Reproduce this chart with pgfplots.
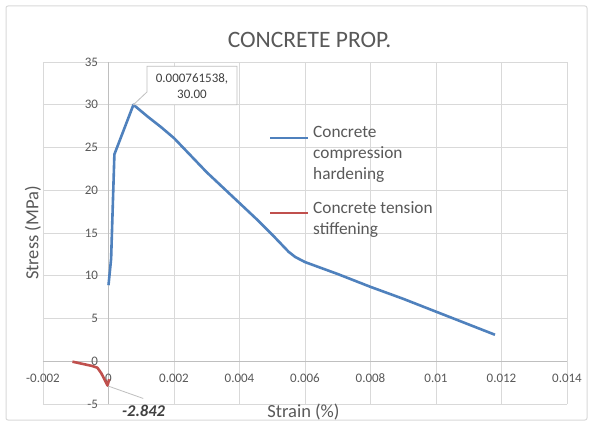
\documentclass[border=0pt]{standalone}
\usepackage{pgfplots}
\pgfplotsset{compat=1.18}
\usepackage{fontspec}
\setmainfont{Carlito}
\definecolor{cblue}{HTML}{4F81BD}
\definecolor{cred}{HTML}{C0504D}
\definecolor{tgray}{HTML}{595959}
\definecolor{dgray}{HTML}{404040}
\definecolor{ggray}{HTML}{D9D9D9}
\definecolor{agray}{HTML}{BFBFBF}
\begin{document}
\begin{tikzpicture}[x=1pt,y=1pt]
\path[fill=white] (0,0) rectangle (593,426);
\draw[ggray, line width=1pt, rounded corners=2pt] (6,6) rectangle (587,420);
\begin{axis}[
  at={(43pt,22pt)}, anchor=south west,
  scale only axis, width=524pt, height=342pt,
  xmin=-0.002, xmax=0.014, ymin=-5, ymax=35,
  enlargelimits=false, clip=false,
  axis lines=middle,
  axis line style={-, draw=agray, line width=0.8pt},
  hide obscured x ticks=false, hide obscured y ticks=false,
  scaled x ticks=false, scaled y ticks=false,
  grid=major,
  major grid style={draw=ggray, line width=0.8pt},
  major tick length=0pt,
  xtick={-0.002,0,0.002,0.004,0.006,0.008,0.01,0.012,0.014},
  xticklabels={-0.002,0,0.002,0.004,0.006,0.008,0.01,0.012,0.014},
  ytick={-5,0,5,10,15,20,25,30,35},
  yticklabels={-5,0,5,10,15,20,25,30,35},
  tick label style={font=\fontsize{13}{15}\selectfont, text=tgray},
  xticklabel style={anchor=center, yshift=-17pt},
  yticklabel style={anchor=east, xshift=-7pt},
]
\addplot[cblue, line width=2.6pt, line join=round] coordinates {
  (0,8.9) (0.00008,12) (0.00018,24.2) (0.000761538,30)
  (0.0012,28.6) (0.0016,27.4) (0.002,26.1) (0.0025,24.1) (0.003,22.1)
  (0.0035,20.3) (0.004,18.5) (0.0045,16.7) (0.005,14.8) (0.0055,12.8)
  (0.0057,12.2) (0.006,11.6) (0.007,10.2) (0.008,8.7) (0.009,7.3)
  (0.01,5.8) (0.011,4.3) (0.0118,3.1)
};
\addplot[cred, line width=2.6pt, line join=round] coordinates {
  (-0.0011,-0.05) (-0.0008,-0.3) (-0.0005,-0.55) (-0.00034,-0.75)
  (-0.00022,-1.4) (-0.0001,-2.3) (-0.00003,-2.842) (0.00002,-2.1)
};
% data callout for the peak
\draw[agray, line width=0.8pt, fill=white]
  (axis cs:0.001176,34.5) -- (axis cs:0.003924,34.5) -- (axis cs:0.003924,30)
  -- (axis cs:0.00145,30) -- (axis cs:0.000761538,30) -- (axis cs:0.001176,31.5) -- cycle;
\node[align=center, font=\fontsize{13}{16.5}\selectfont, text=dgray]
  at (axis cs:0.00255,32.2) {0.000761538,\\30.00};
% data label for the tension minimum
\draw[agray, line width=0.8pt] (axis cs:-0.00001,-2.9) -- (axis cs:0.00106,-4.35);
\node[anchor=base, font=\bfseries\itshape\fontsize{16.5}{19}\selectfont, text=dgray]
  at (axis cs:0.00107,-6.5) {-2.842};
\end{axis}
% title and axis titles
\node[anchor=base, font=\fontsize{23.5}{28}\selectfont, text=tgray] at (309.5,378) {CONCRETE PROP.};
\node[anchor=base, font=\fontsize{18.5}{22}\selectfont, text=tgray] at (303.5,9) {Strain (\%)};
\node[rotate=90, font=\fontsize{18.5}{22}\selectfont, text=tgray] at (33,193) {Stress (MPa)};
% legend
\draw[cblue, line width=2.6pt] (270,288) -- (308,288);
\node[anchor=north west, align=left, inner sep=0pt, font=\fontsize{17.3}{21}\selectfont, text=tgray]
  at (313,300) {Concrete\\compression\\hardening};
\draw[cred, line width=2.6pt] (270,213) -- (308,213);
\node[anchor=north west, align=left, inner sep=0pt, font=\fontsize{17.3}{21}\selectfont, text=tgray]
  at (313,225) {Concrete tension\\stiffening};
\pgfresetboundingbox
\path (0,0) rectangle (593,426);
\end{tikzpicture}
\end{document}
